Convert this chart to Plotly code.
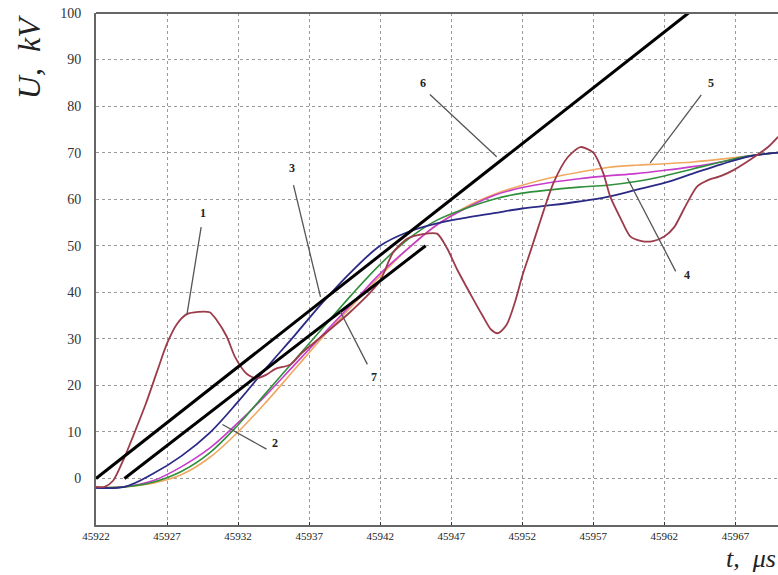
import plotly.graph_objects as go

# ---------------- data ----------------
x_ticks = [45922, 45927, 45932, 45937, 45942, 45947, 45952, 45957, 45962, 45967]
y_ticks = [0, 10, 20, 30, 40, 50, 60, 70, 80, 90, 100]

# curve 1 (oscillating)
c1_t = [45922.0, 45922.6, 45923.2, 45924.0, 45924.6, 45925.5, 45926.3, 45927.0, 45927.7,
        45928.4, 45929.2, 45930.0, 45930.5, 45931.2, 45931.8, 45932.6, 45933.3, 45934.0,
        45934.6, 45935.7, 45936.5, 45937.6, 45938.7, 45939.8, 45941.0, 45942.0, 45942.9,
        45943.9, 45945.0, 45946.0, 45946.7, 45947.4, 45948.5, 45949.2, 45949.8, 45950.3,
        45950.9, 45951.5, 45952.0, 45952.6, 45953.3, 45954.2, 45955.2, 45956.1, 45957.0,
        45957.7, 45958.2, 45958.9, 45959.6, 45960.4, 45961.2, 45962.0, 45962.7, 45963.4,
        45964.3, 45965.0, 45966.0, 45966.9, 45968.3, 45969.3, 45970.0]
c1_u = [-1.8, -1.8, -0.5, 4.5, 9, 16, 23, 29, 33.2,
        35.3, 35.8, 35.7, 34, 30.5, 26, 22.5, 21.5, 22.3,
        23.5, 24.5, 27, 29.8, 32.6, 35.5, 39, 42.5, 48.5,
        51.5, 52.5, 52.6, 49.5, 45, 38.8, 35, 32, 31.2,
        33, 38, 43.5, 49, 55.6, 63.5, 69, 71.2, 70,
        65.6, 60.5, 56, 52, 51, 51, 52, 54, 58,
        62.7, 64, 65, 66.3, 69, 71.2, 73.4]

# smooth curves 2-5
s_t = [45922, 45924, 45926, 45928, 45930, 45932, 45934, 45936, 45938, 45940, 45942, 45944,
       45946, 45948, 45950, 45952, 45954, 45956, 45958, 45960, 45962, 45964, 45966, 45968, 45970]
blue_u = [-2, -1.8, 1.0, 4.8, 9.8, 16.5, 23.8, 30.8, 38, 44.5, 50, 53,
          54.8, 56, 57, 58, 58.7, 59.5, 60.5, 62, 63.5, 65.5, 67.5, 69.2, 70]
green_u = [-2, -1.8, -0.8, 1.5, 5.5, 11.5, 18.5, 25.5, 32.5, 39.5, 46, 51.5,
           55.5, 58, 60, 61.3, 62, 62.6, 63, 63.8, 65, 66.5, 68, 69.3, 70]
magenta_u = [-2, -1.8, -0.5, 2.5, 6.5, 12, 18, 24.5, 31, 37.5, 44, 49.5,
             54.5, 58, 60.8, 62.5, 63.6, 64.4, 65, 65.5, 66.2, 67, 68, 69.3, 70]
orange_u = [-2, -1.8, -1, 0.8, 4.5, 10, 16.5, 23.5, 30.5, 37, 43.5, 49.5,
            54.5, 58.3, 61, 63, 64.6, 65.8, 66.8, 67.3, 67.6, 68, 68.6, 69.3, 70]

# straight lines 6 and 7
l6_t = [45922, 45963.7]
l6_u = [0, 100]
l7_t = [45924, 45945.2]
l7_u = [0, 50]

# label texts, label anchor (t,U), leader end (t,U)
lbl_text = ["1", "2", "3", "4", "5", "6", "7"]
lbl_t = [45929.5, 45934.6, 45935.8, 45963.6, 45965.3, 45945.0, 45941.6]
lbl_u = [57.0, 7.7, 66.7, 43.8, 85.0, 85.0, 21.7]
lead_t0 = [45929.4, 45934.0, 45935.9, 45962.8, 45964.6, 45945.5, 45941.1]
lead_u0 = [54.0, 6.3, 63.0, 44.5, 82.4, 82.5, 24.5]
lead_t1 = [45928.4, 45930.9, 45937.8, 45959.4, 45961.0, 45950.2, 45939.2]
lead_u1 = [35.2, 11.6, 39.0, 64.5, 67.8, 69.1, 35.8]

# ---------------- figure ----------------
fig = go.Figure()

for t0, u0, t1, u1 in zip(lead_t0, lead_u0, lead_t1, lead_u1):
    fig.add_shape(type="line", x0=t0, y0=u0, x1=t1, y1=u1,
                  line=dict(color="#555555", width=1.3))

fig.add_trace(go.Scatter(x=s_t, y=orange_u, mode="lines", line=dict(color="#f0a860", width=1.6, shape="spline")))
fig.add_trace(go.Scatter(x=s_t, y=magenta_u, mode="lines", line=dict(color="#c83ccc", width=1.6, shape="spline")))
fig.add_trace(go.Scatter(x=s_t, y=green_u, mode="lines", line=dict(color="#2f8f3a", width=1.6, shape="spline")))
fig.add_trace(go.Scatter(x=s_t, y=blue_u, mode="lines", line=dict(color="#2a2a86", width=1.8, shape="spline")))
fig.add_trace(go.Scatter(x=c1_t, y=c1_u, mode="lines", line=dict(color="#9c3b4a", width=1.8, shape="spline", smoothing=0.7)))
fig.add_trace(go.Scatter(x=l6_t, y=l6_u, mode="lines", line=dict(color="#000000", width=3)))
fig.add_trace(go.Scatter(x=l7_t, y=l7_u, mode="lines", line=dict(color="#000000", width=3)))

for txt, t, u in zip(lbl_text, lbl_t, lbl_u):
    fig.add_annotation(x=t, y=u, text="<b>" + txt + "</b>", showarrow=False,
                       font=dict(family="Liberation Serif", size=12, color="#222222"))

# top border
fig.add_shape(type="line", xref="paper", yref="paper", x0=0, x1=1, y0=1, y1=1,
              line=dict(color="#666666", width=2))

fig.update_layout(
    width=778, height=575,
    margin=dict(l=96, r=0, t=13, b=50),
    paper_bgcolor="white", plot_bgcolor="white",
    showlegend=False,
    xaxis=dict(range=[45922, 45970], tickvals=x_ticks, ticktext=[str(v) for v in x_ticks],
               showgrid=True, gridcolor="#9a9a9a", griddash="dot", gridwidth=1,
               showline=True, linecolor="#666666", linewidth=2, zeroline=False,
               ticks="inside", ticklen=3, tickcolor="#333333",
               tickfont=dict(family="Liberation Serif", size=11, color="#222222"),
               ticklabelstandoff=0),
    yaxis=dict(range=[-10, 100], tickvals=y_ticks, ticktext=[str(v) for v in y_ticks],
               showgrid=True, gridcolor="#9a9a9a", griddash="dot", gridwidth=1,
               showline=True, linecolor="#666666", linewidth=2, zeroline=False,
               ticks="", tickfont=dict(family="Liberation Serif", size=14, color="#333333"),
               ticklabelstandoff=10),
)

fig.add_annotation(xref="paper", yref="paper", x=-0.098, y=1.0, xanchor="center", yanchor="top",
                   text="<i>U,  kV</i>", textangle=-90, showarrow=False,
                   font=dict(family="Liberation Serif", size=32, color="#222222"))
fig.add_annotation(xref="paper", yref="paper", x=1.0, y=-0.0977, xanchor="right", yanchor="bottom",
                   text="<i>t,  μs</i>", showarrow=False,
                   font=dict(family="Liberation Serif", size=26, color="#222222"))

fig.write_html("out.html")
